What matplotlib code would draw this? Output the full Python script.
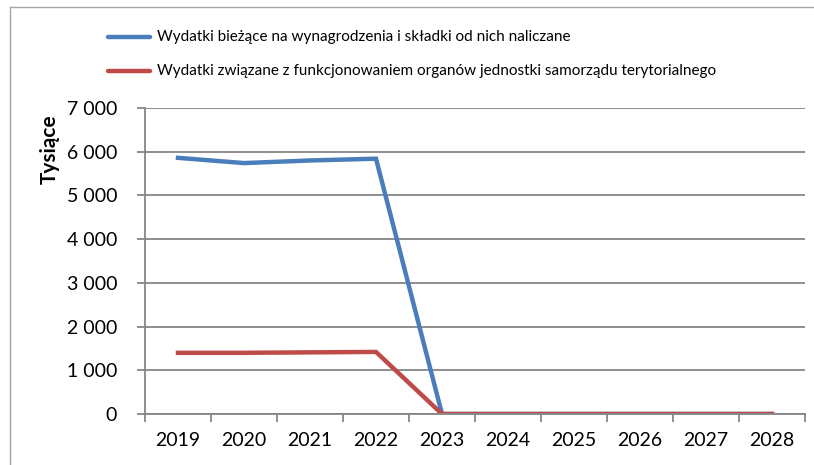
import numpy as np
import matplotlib.pyplot as plt
from matplotlib.lines import Line2D

plt.rcParams['font.family'] = ['Lato', 'DejaVu Sans']

years = ['2019', '2020', '2021', '2022', '2023', '2024', '2025', '2026', '2027', '2028']
wynagrodzenia = [5860, 5740, 5800, 5840, 0, 0, 0, 0, 0, 0]
organy = [1400, 1400, 1410, 1420, 0, 0, 0, 0, 0, 0]
labels = ['Wydatki bieżące na wynagrodzenia i składki od nich naliczane',
          'Wydatki związane z funkcjonowaniem organów jednostki samorządu terytorialnego']

W, H = 814, 465
fig = plt.figure(figsize=(W / 100, H / 100), dpi=100)
ax = fig.add_axes([145 / W, 1 - 414 / H, (805 - 145) / W, (414 - 108) / H])

x = np.arange(1, len(years) + 1)
l1, = ax.plot(x, wynagrodzenia, color='#4A7EBB', lw=3.2, solid_joinstyle='miter')
l2, = ax.plot(x, organy, color='#BE4B48', lw=3.2, solid_joinstyle='miter')

ax.set_xlim(0.5, len(years) + 0.5)
ax.set_ylim(0, 7000)
ax.set_yticks(np.arange(0, 7001, 1000))
ax.set_yticklabels(['0' if v == 0 else f'{v // 1000} 000' for v in range(0, 7001, 1000)])
ax.set_xticks(np.arange(0.5, len(years) + 1, 1))
ax.set_xticklabels([])
ax.set_xticks(x, minor=True)
ax.set_xticklabels(years, minor=True)
ax.tick_params(axis='x', which='minor', length=0, pad=13, labelsize=14)
ax.tick_params(axis='x', which='major', length=6, width=1.3, color='#868686')
ax.tick_params(axis='y', length=6, width=1.3, color='#868686', pad=14, labelsize=14)
ax.grid(axis='y', color='#868686', lw=1.3)
ax.set_axisbelow(True)
for s in ['top', 'right']:
    ax.spines[s].set_visible(False)
for s in ['left', 'bottom']:
    ax.spines[s].set_color('#868686')
    ax.spines[s].set_linewidth(1.3)

fig.text(50 / W, 1 - 149 / H, 'Tysiące', rotation=90, ha='center', va='center',
         fontsize=15, fontweight='bold')

# legend
for i, (ln, lab) in enumerate(zip([l1, l2], labels)):
    yy = 1 - (37 + 34 * i) / H
    fig.add_artist(Line2D([108 / W, 150 / W], [yy, yy], color=ln.get_color(), lw=3.2,
                          solid_capstyle='round'))
    fig.text(157 / W, yy, lab, ha='left', va='center', fontsize=11)

# outer frame
frame = '#A6A6A6'
fig.add_artist(Line2D([10 / W, 10 / W], [0, 1 - 7 / H], color=frame, lw=1))
fig.add_artist(Line2D([10 / W, 1], [1 - 7 / H, 1 - 7 / H], color=frame, lw=1))

fig.savefig('out.png', dpi=100)
